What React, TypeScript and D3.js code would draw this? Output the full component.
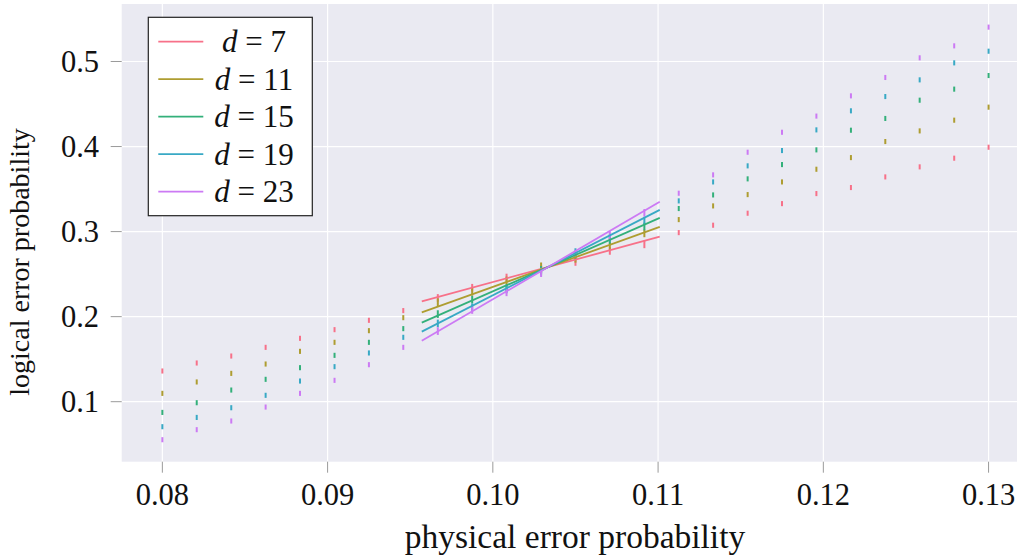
import * as d3 from 'd3';

// physical error probabilities sampled
const pe = [
    0.08, 0.08208, 0.08417, 0.08625, 0.08833, 0.09042, 0.0925, 0.09458, 0.09667,
    0.09875, 0.10083, 0.10292, 0.105, 0.10708, 0.10917, 0.11125, 0.11333, 0.11542,
    0.1175, 0.11958, 0.12167, 0.12375, 0.12583, 0.12792, 0.13,
];

const distances = [7, 11, 15, 19, 23];

// logical error probability per distance
const d7 = [0.1361, 0.1455, 0.1537, 0.1639, 0.1745, 0.1847, 0.1957, 0.2071, 0.222, 0.234, 0.246, 0.256, 0.2643, 0.2773, 0.285, 0.2988, 0.3075, 0.3216, 0.3329, 0.3447, 0.3518, 0.3643, 0.3761, 0.3863, 0.3992];
const d11 = [0.1098, 0.1232, 0.1333, 0.1443, 0.1592, 0.1698, 0.1835, 0.1988, 0.217, 0.2292, 0.2426, 0.2592, 0.268, 0.2827, 0.2979, 0.3141, 0.3302, 0.3435, 0.3584, 0.3733, 0.387, 0.4059, 0.4184, 0.431, 0.4463];
const d15 = [0.0874, 0.0988, 0.1137, 0.1263, 0.14, 0.1545, 0.1698, 0.1859, 0.203, 0.22, 0.2337, 0.255, 0.272, 0.29, 0.306, 0.3271, 0.3431, 0.362, 0.3788, 0.3961, 0.4192, 0.433, 0.4545, 0.4675, 0.4835];
const d19 = [0.0706, 0.0815, 0.0929, 0.1075, 0.1243, 0.1412, 0.1573, 0.1757, 0.192, 0.211, 0.232, 0.253, 0.2759, 0.293, 0.3126, 0.3361, 0.3584, 0.3773, 0.3953, 0.4196, 0.442, 0.4588, 0.4784, 0.4984, 0.5121];
const d23 = [0.0553, 0.0671, 0.0773, 0.0937, 0.1098, 0.1251, 0.1435, 0.1639, 0.183, 0.2078, 0.2286, 0.2511, 0.274, 0.296, 0.322, 0.3451, 0.3667, 0.3933, 0.4168, 0.4358, 0.4596, 0.4812, 0.5043, 0.5184, 0.5404];
const series = [d7, d11, d15, d19, d23];

// half-width of error bars
const errs = [0.003, 0.003, 0.003, 0.003, 0.003, 0.003, 0.003, 0.003, 0.0045, 0.0045, 0.0045, 0.0045, 0.0045, 0.0045, 0.0045, 0.003, 0.003, 0.003, 0.003, 0.003, 0.003, 0.003, 0.003, 0.003, 0.003];

// linear fits near threshold
const fitRange = [0.0957, 0.1101];
const fitStart = [0.218, 0.205, 0.193, 0.1824, 0.1716];
const fitEnd = [0.294, 0.3055, 0.3161, 0.3255, 0.335];

const xTicks = [0.08, 0.09, 0.1, 0.11, 0.12, 0.13];
const yTicks = [0.1, 0.2, 0.3, 0.4, 0.5];

const colors = ['#f77189', '#ae9d31', '#33b07a', '#38a9c5', '#cc7af4'];

const W = 1020;
const H = 558;
const margin = { left: 121.7, right: 3, top: 4, bottom: 96.3 };
const FONT = '"Liberation Serif", "Times New Roman", serif';

export default function App() {
    const x = d3.scaleLinear().domain([0.07754, 0.13172]).range([margin.left, W - margin.right]);
    const y = d3.scaleLinear().domain([0.02945, 0.5676]).range([H - margin.bottom, margin.top]);
    const line = d3.line<[number, number]>().x((d) => x(d[0])).y((d) => y(d[1]));

    const legendX = 148.3;
    const legendY = 17.3;

    return (
        <svg width={W} height={H} style={{ position: 'absolute', left: 0, top: 0, background: '#fff' }}>
            <rect x={margin.left} y={margin.top} width={W - margin.right - margin.left} height={H - margin.bottom - margin.top} fill="#eaeaf2" />

            {/* grid */}
            {xTicks.map((t) => (
                <line key={'gx' + t} x1={x(t)} x2={x(t)} y1={margin.top} y2={H - margin.bottom} stroke="#fff" strokeWidth={1.2} />
            ))}
            {yTicks.map((t) => (
                <line key={'gy' + t} x1={margin.left} x2={W - margin.right} y1={y(t)} y2={y(t)} stroke="#fff" strokeWidth={1.2} />
            ))}

            {/* error bars */}
            {series.map((s, si) =>
                s.map((v, i) => (
                    <line key={`e${si}-${i}`} x1={x(pe[i])} x2={x(pe[i])} y1={y(v - errs[i])} y2={y(v + errs[i])} stroke={colors[si]} strokeWidth={2} />
                ))
            )}

            {/* fit lines */}
            {series.map((_, si) => (
                <path key={'f' + si} d={line([[fitRange[0], fitStart[si]], [fitRange[1], fitEnd[si]]]) || ''} fill="none" stroke={colors[si]} strokeWidth={1.8} />
            ))}

            {/* x axis */}
            {xTicks.map((t) => (
                <g key={'xt' + t}>
                    <line x1={x(t)} x2={x(t)} y1={H - margin.bottom} y2={H - margin.bottom + 11} stroke="#9a9a9a" strokeWidth={1} />
                    <text x={x(t)} y={505} textAnchor="middle" fontFamily={FONT} fontSize={30.5} fill="#111">
                        {t.toFixed(2)}
                    </text>
                </g>
            ))}
            {/* y axis */}
            {yTicks.map((t) => (
                <g key={'yt' + t}>
                    <line x1={margin.left - 11} x2={margin.left} y1={y(t)} y2={y(t)} stroke="#9a9a9a" strokeWidth={1} />
                    <text x={99} y={y(t) + 10.5} textAnchor="end" fontFamily={FONT} fontSize={30.5} fill="#111">
                        {t.toFixed(1)}
                    </text>
                </g>
            ))}

            <text x={575} y={548} textAnchor="middle" fontFamily={FONT} fontSize={33.5} fill="#111">
                physical error probability
            </text>
            <text transform={`translate(29, 262) rotate(-90)`} textAnchor="middle" fontFamily={FONT} fontSize={28} fill="#111">
                logical error probability
            </text>

            {/* legend */}
            <rect x={legendX} y={legendY} width={164} height={198.4} fill="#fff" stroke="#222" strokeWidth={1.2} />
            {distances.map((d, i) => {
                const ry = 41.7 + i * 37.5;
                return (
                    <g key={'lg' + d}>
                        <line x1={158.3} x2={203.3} y1={ry} y2={ry} stroke={colors[i]} strokeWidth={1.8} />
                        <text x={254} y={ry + 10.5} textAnchor="middle" fontFamily={FONT} fontSize={31} fill="#111">
                            <tspan fontStyle="italic">d</tspan>
                            {' = ' + d}
                        </text>
                    </g>
                );
            })}
        </svg>
    );
}
